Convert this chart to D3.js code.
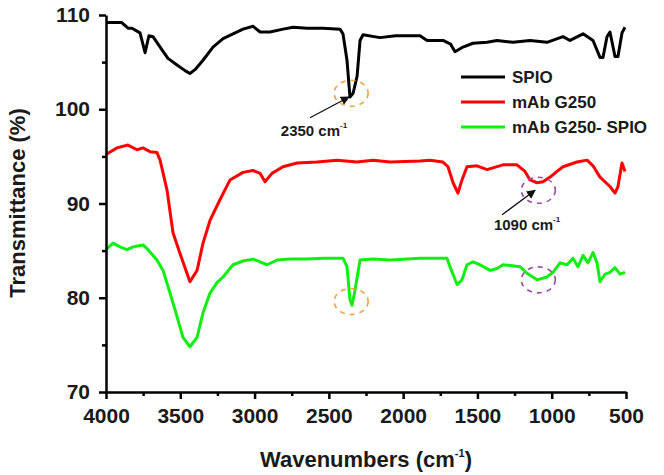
<!DOCTYPE html>
<html>
<head>
<meta charset="utf-8">
<script src="https://cdn.jsdelivr.net/npm/d3@7"></script>
<style>
  html, body { margin: 0; padding: 0; background: #fff; }
  svg { display: block; }
  text { font-family: "Liberation Sans", Arial, sans-serif; font-weight: bold; fill: #1a1a1a; }
</style>
</head>
<body>
<svg id="chart" width="664" height="475"></svg>
<script>
// ---------- data ----------
const seriesNames = ["SPIO", "mAb G250", "mAb G250- SPIO"];

const spioWn = [4000,3894,3852,3825,3771,3737,3711,3684,3623,3583,3522,3468,3435,3401,3347,3280,3212,3145,3078,3010,2963,2896,2808,2741,2647,2539,2425,2405,2378,2358,2337,2310,2290,2270,2156,2050,1950,1886,1839,1732,1680,1651,1597,1530,1435,1368,1260,1146,1032,924,877,789,722,675,655,628,608,574,554,527,507];
const spioT  = [109.2,109.2,108.6,108.6,108.1,106.0,107.8,107.7,106.3,105.4,104.7,104.1,103.8,104.2,105.2,106.6,107.5,108.0,108.5,108.8,108.2,108.2,108.5,108.7,108.6,108.6,108.5,108.0,105.2,101.3,101.7,103.5,107.3,107.9,107.6,107.8,107.8,107.8,107.3,107.3,106.9,106.1,106.6,107.0,107.1,107.3,107.1,107.3,107.1,107.7,107.3,108.0,107.3,105.5,105.5,107.7,108.2,105.6,105.6,108.1,108.7];

const mabWn = [4000,3926,3852,3791,3751,3704,3657,3636,3589,3549,3502,3455,3435,3387,3347,3300,3233,3165,3078,3010,2963,2930,2883,2809,2714,2580,2445,2311,2203,2088,1886,1819,1732,1698,1664,1631,1604,1570,1503,1435,1328,1234,1180,1146,1099,1059,1011,964,924,830,762,722,675,608,574,554,527,520,507];
const mabT  = [95.2,95.9,96.2,95.7,95.9,95.5,95.4,94.6,91.4,86.9,84.7,82.6,81.7,82.9,85.8,88.2,90.4,92.5,93.3,93.5,93.2,92.3,93.2,93.9,94.3,94.4,94.6,94.4,94.6,94.4,94.5,94.6,94.4,93.9,92.2,91.1,92.5,93.9,94.0,93.6,94.1,94.1,93.4,92.5,92.2,92.3,92.8,93.4,93.9,94.4,94.6,94.0,92.8,91.8,91.1,91.8,94.3,94.0,93.4];

const conjWn = [4000,3953,3906,3859,3818,3751,3717,3657,3616,3569,3522,3482,3435,3387,3347,3300,3253,3212,3145,3078,3010,2963,2916,2849,2761,2647,2539,2405,2378,2358,2344,2324,2290,2203,2088,1886,1705,1685,1637,1604,1570,1530,1483,1415,1368,1328,1213,1166,1099,1032,991,944,897,857,823,789,756,722,695,675,641,608,574,540,507];
const conjT  = [85.1,85.8,85.4,85.1,85.4,85.6,85.1,84.0,82.9,80.5,78.0,75.8,74.8,75.8,78.4,80.5,81.6,82.2,83.5,83.9,84.1,83.8,83.5,84.0,84.1,84.1,84.2,84.2,83.3,79.8,79.2,80.8,84.0,84.1,84.0,84.2,84.2,83.3,81.4,81.9,83.5,83.8,83.5,82.9,83.1,83.5,83.3,82.6,81.9,82.2,82.7,83.7,83.5,84.2,83.3,84.5,83.7,84.8,83.7,81.7,82.5,82.7,83.2,82.5,82.7];

const xTicks = [4000, 3500, 3000, 2500, 2000, 1500, 1000, 500];
const xMinor = [3750, 3250, 2750, 2250, 1750, 1250, 750];
const yTicks = [70, 80, 90, 100, 110];
const yMinor = [75, 85, 95, 105];

// annotations (peak positions in data units)
const circleWn = [2350, 2350, 1090, 1090];
const circleT  = [101.7, 79.6, 91.4, 81.9];
const circleKind = ["orange", "orange", "purple", "purple"];
const arrowFromWn = [2627, 1334], arrowFromT = [99.1, 88.8];
const arrowToWn   = [2364, 1112], arrowToT   = [101.3, 91.4];
const labelWn = [2600, 1166], labelT = [97.2, 87.2];
const labelText = ["2350 cm", "1090 cm"];

// ---------- drawing ----------
const svg = d3.select("#chart");
const x = d3.scaleLinear().domain([4000, 500]).range([106, 626]);
const y = d3.scaleLinear().domain([70, 110]).range([392, 15]);

svg.append("rect").attr("width", 664).attr("height", 475).attr("fill", "#fff");

const colors = ["#000000", "#ff0000", "#11ee11"];
const series = [
  spioWn.map((w, i) => [w, spioT[i]]),
  mabWn.map((w, i) => [w, mabT[i]]),
  conjWn.map((w, i) => [w, conjT[i]])
];
const line = d3.line().x(d => x(d[0])).y(d => y(d[1]));

series.forEach((s, i) => {
  svg.append("path").datum(s)
    .attr("d", line)
    .attr("fill", "none")
    .attr("stroke", colors[i])
    .attr("stroke-width", 3)
    .attr("stroke-linejoin", "round");
});

// axes
svg.append("g").attr("transform", "translate(0,392)")
  .call(d3.axisBottom(x).tickValues(xTicks).tickFormat(d3.format("d")).tickSize(7).tickSizeOuter(0).tickPadding(9));
svg.append("g").attr("transform", "translate(0,392)")
  .call(d3.axisBottom(x).tickValues(xMinor).tickFormat("").tickSize(4).tickSizeOuter(0))
  .select(".domain").remove();
svg.append("g").attr("transform", "translate(106,0)")
  .call(d3.axisLeft(y).tickValues(yTicks).tickSize(7).tickSizeOuter(0).tickPadding(9));
svg.append("g").attr("transform", "translate(106,0)")
  .call(d3.axisLeft(y).tickValues(yMinor).tickFormat("").tickSize(4).tickSizeOuter(0))
  .select(".domain").remove();

svg.selectAll(".domain, .tick line").attr("stroke", "#000").attr("stroke-width", 2.5);
svg.selectAll(".tick text").style("font-size", "21px").style("font-weight", "bold")
  .style("font-family", "'Liberation Sans', Arial, sans-serif").attr("fill", "#1a1a1a");

// axis titles
const xt = svg.append("text").attr("x", 366).attr("y", 467).attr("text-anchor", "middle")
  .style("font-size", "22px");
xt.append("tspan").text("Wavenumbers (cm");
xt.append("tspan").text("-1").style("font-size", "11px").attr("dy", -10);
xt.append("tspan").text(")").attr("dy", 10);

svg.append("text").attr("transform", "translate(25,203) rotate(-90)")
  .attr("text-anchor", "middle").style("font-size", "22px").text("Transmittance (%)");

// legend
seriesNames.forEach((n, i) => {
  const ly = 77 + i * 25;
  svg.append("line").attr("x1", 461).attr("x2", 505).attr("y1", ly).attr("y2", ly)
    .attr("stroke", colors[i]).attr("stroke-width", 3);
  svg.append("text").attr("x", 512).attr("y", ly + 6).style("font-size", "17px").text(n);
});

// dashed circles
const circColor = { orange: "#f0a040", purple: "#9a4aa8" };
circleWn.forEach((w, i) => {
  svg.append("ellipse").attr("cx", x(w)).attr("cy", y(circleT[i]))
    .attr("rx", 17).attr("ry", 13)
    .attr("fill", "none").attr("stroke", circColor[circleKind[i]])
    .attr("stroke-width", 1.6).attr("stroke-dasharray", "5,5");
});

// arrows
const defs = svg.append("defs");
defs.append("marker").attr("id", "ah").attr("viewBox", "0 0 10 10")
  .attr("refX", 9).attr("refY", 5).attr("markerWidth", 7).attr("markerHeight", 7)
  .attr("orient", "auto")
  .append("path").attr("d", "M0,0 L10,5 L0,10 Z").attr("fill", "#111");
arrowFromWn.forEach((w, i) => {
  svg.append("line").attr("x1", x(w)).attr("y1", y(arrowFromT[i]))
    .attr("x2", x(arrowToWn[i])).attr("y2", y(arrowToT[i]))
    .attr("stroke", "#111").attr("stroke-width", 1.3).attr("marker-end", "url(#ah)");
});

// labels
labelWn.forEach((w, i) => {
  const t = svg.append("text").attr("x", x(w)).attr("y", y(labelT[i]))
    .attr("text-anchor", "middle").style("font-size", "15px").attr("fill", "#222");
  t.append("tspan").text(labelText[i]);
  t.append("tspan").text("-1").style("font-size", "8px").attr("dy", -8);
});
</script>
</body>
</html>
